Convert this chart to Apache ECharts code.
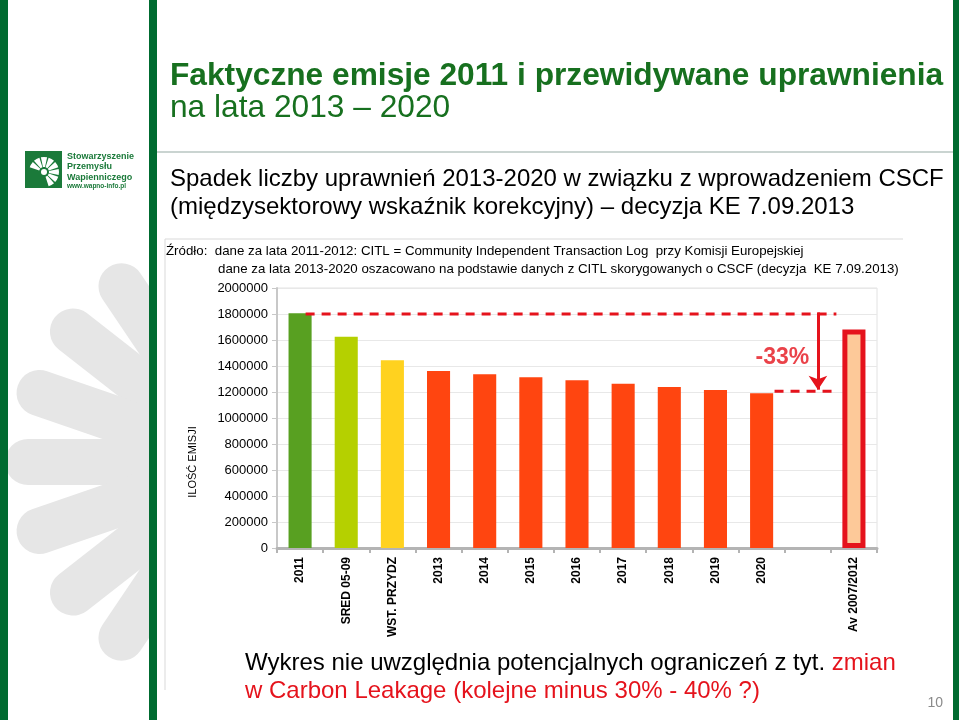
<!DOCTYPE html>
<html>
<head>
<meta charset="utf-8">
<script src="https://cdn.jsdelivr.net/npm/echarts@6/dist/echarts.min.js"></script>
<style>
html,body{margin:0;padding:0;background:#fff;}
#chart{width:959px;height:720px;}
</style>
</head>
<body>
<div id="chart"></div>
<script>
// ---- data ----
const categories = ['2011', 'SRED 05-09', 'WST. PRZYDZ', '2013', '2014', '2015', '2016', '2017', '2018', '2019', '2020', '', 'Av 2007/2012'];
const emissions = [1806000, 1625000, 1444000, 1362000, 1336000, 1313000, 1290000, 1264000, 1238000, 1215000, 1190000, null, 1680000];
const yTicks = { min: 0, max: 2000000, interval: 200000 };
const refLevel = 1800000;          // 2011 level (dashed line)
const reductionPct = -33;          // reduction label
const reducedLevel = refLevel * (1 + reductionPct / 100);

// ---- styles ----
const barColors = ['#58a021', '#b5d000', '#ffd21f', '#ff4510', '#ff4510', '#ff4510', '#ff4510', '#ff4510', '#ff4510', '#ff4510', '#ff4510', '#ff4510', '#fdc999'];
const RED = '#e5131c';
const GREEN = '#17701f';
const FONT = '"Liberation Sans", Arial, sans-serif';

const chart = echarts.init(document.getElementById('chart'), null, { renderer: 'canvas' });

const barData = emissions.map((v, i) => {
  const item = { value: v, itemStyle: { color: barColors[i] } };
  if (i === categories.length - 1) {
    item.itemStyle.borderColor = RED;
    item.itemStyle.borderWidth = 5;
  }
  return item;
});

// decorative petals (background)
const petalAngles = [-124, -142, -161, 180, 161, 142, 124];
const petals = petalAngles.map(a => ({
  type: 'rect', x: 240, y: 462, rotation: -a * Math.PI / 180, z: -3,
  shape: { x: 60, y: -23, width: 175, height: 46, r: 23 },
  style: { fill: '#e6e6e6' }
}));

const option = {
  animation: false,
  backgroundColor: '#ffffff',
  grid: { left: 277, right: 82, top: 288, bottom: 172, show: true, borderColor: '#e2e2e2', borderWidth: 1, containLabel: false },
  xAxis: [
    {
      type: 'category', data: categories, gridIndex: 0,
      axisLine: { lineStyle: { color: '#b4b4b4', width: 3 } },
      axisTick: { show: true, length: 5, lineStyle: { color: '#b4b4b4', width: 2 } },
      axisLabel: { rotate: 90, fontSize: 12, fontWeight: 'bold', color: '#000', fontFamily: FONT, margin: 9, interval: 0 },
      splitLine: { show: false }
    },
    { type: 'value', min: -0.5, max: 12.5, show: false, gridIndex: 0 }
  ],
  yAxis: {
    type: 'value', min: yTicks.min, max: yTicks.max, interval: yTicks.interval,
    axisLine: { show: true, onZero: false, lineStyle: { color: '#c8c8c8', width: 2 } },
    axisTick: { show: true, length: 5, lineStyle: { color: '#c8c8c8' } },
    axisLabel: { fontSize: 13, color: '#000', fontFamily: FONT, margin: 9, formatter: v => String(v) },
    splitLine: { lineStyle: { color: '#e8e8e8' } }
  },
  series: [
    {
      type: 'bar', data: barData, barWidth: '50%', xAxisIndex: 0,
      silent: true
    },
    {
      type: 'line', xAxisIndex: 1, symbol: 'none', silent: true,
      data: [[0.12, refLevel], [11.62, refLevel]],
      lineStyle: { color: RED, width: 3, type: [9, 7] }, z: 5
    },
    {
      type: 'line', xAxisIndex: 1, symbol: 'none', silent: true,
      data: [[10.28, reducedLevel], [11.55, reducedLevel]],
      lineStyle: { color: RED, width: 3, type: [9, 7] }, z: 5,
      markLine: {
        silent: true, symbol: ['none', 'arrow'], symbolSize: 14,
        label: { show: false },
        lineStyle: { color: RED, width: 3, type: 'solid' },
        data: [[{ coord: [11.22, refLevel + 12000] }, { coord: [11.22, reducedLevel + 12000] }]]
      }
    },
    {
      type: 'scatter', xAxisIndex: 1, symbolSize: 0, silent: true,
      data: [[10.45, 1462000]],
      label: { show: true, position: 'inside', formatter: reductionPct + '%', color: RED, fontSize: 23, fontWeight: 'bold', fontFamily: FONT }
    }
  ],
  graphic: [
    ...petals,
    // white cover so petals appear only in the left panel
    { type: 'rect', z: -2, shape: { x: 157, y: 0, width: 802, height: 720 }, style: { fill: '#ffffff' } },
    // green strips
    { type: 'rect', z: 10, shape: { x: 0, y: 0, width: 8, height: 720 }, style: { fill: '#006b30' } },
    { type: 'rect', z: 10, shape: { x: 149, y: 0, width: 8, height: 720 }, style: { fill: '#006b30' } },
    { type: 'rect', z: 10, shape: { x: 953, y: 0, width: 6, height: 720 }, style: { fill: '#006b30' } },
    // separator under title
    { type: 'line', z: 10, shape: { x1: 157, y1: 152, x2: 953, y2: 152 }, style: { stroke: '#b9c6c2', lineWidth: 1.5 } },
    // chart frame
    { type: 'polyline', z: 10, shape: { points: [[165, 690], [165, 239], [903, 239]] }, style: { stroke: '#d9d9d9', lineWidth: 1, fill: null } },
    // logo
    { type: 'rect', z: 10, shape: { x: 25, y: 151, width: 37, height: 37 }, style: { fill: '#1b7a3a' } },
    ...[-150, -120, -90, -60, -30, 0, 30, 60].map(a => ({
      type: 'sector', z: 11,
      shape: { cx: 44, cy: 172, r0: 5, r: 15, startAngle: (a - 12) * Math.PI / 180, endAngle: (a + 12) * Math.PI / 180 },
      style: { fill: '#ffffff' }
    })),
    { type: 'circle', z: 11, shape: { cx: 44, cy: 172, r: 3 }, style: { fill: '#ffffff' } },
    { type: 'text', z: 11, x: 67, y: 151, style: { text: 'Stowarzyszenie\nPrzemysłu\nWapienniczego', fill: '#1b7a3a', font: 'bold 9px ' + FONT, lineHeight: 10.5 } },
    { type: 'text', z: 11, x: 67, y: 183, style: { text: 'www.wapno-info.pl', fill: '#1b7a3a', font: 'bold 6.5px ' + FONT } },
    // titles
    { type: 'text', z: 11, x: 170, y: 76, style: { text: 'Faktyczne emisje 2011 i przewidywane uprawnienia', fill: GREEN, font: 'bold 31.7px ' + FONT, textVerticalAlign: 'middle' } },
    { type: 'text', z: 11, x: 170, y: 108, style: { text: 'na lata 2013 – 2020', fill: GREEN, font: '31.7px ' + FONT, textVerticalAlign: 'middle' } },
    { type: 'text', z: 11, x: 170, y: 179, style: { text: 'Spadek liczby uprawnień 2013-2020 w związku z wprowadzeniem CSCF', fill: '#000', font: '24px ' + FONT, textVerticalAlign: 'middle' } },
    { type: 'text', z: 11, x: 170, y: 207, style: { text: '(międzysektorowy wskaźnik korekcyjny) – decyzja KE 7.09.2013', fill: '#000', font: '24px ' + FONT, textVerticalAlign: 'middle' } },
    { type: 'text', z: 11, x: 166, y: 251, style: { text: 'Źródło:  dane za lata 2011-2012: CITL = Community Independent Transaction Log  przy Komisji Europejskiej', fill: '#000', font: '13.3px ' + FONT, textVerticalAlign: 'middle' } },
    { type: 'text', z: 11, x: 218, y: 269, style: { text: 'dane za lata 2013-2020 oszacowano na podstawie danych z CITL skorygowanych o CSCF (decyzja  KE 7.09.2013)', fill: '#000', font: '13.3px ' + FONT, textVerticalAlign: 'middle' } },
    { type: 'text', z: 11, x: 193, y: 462, rotation: Math.PI / 2, style: { text: 'ILOŚĆ EMISJI', fill: '#000', font: '11px ' + FONT, textAlign: 'center', textVerticalAlign: 'middle' } },
    // bottom note
    { type: 'text', z: 11, x: 245, y: 663, style: { text: '{a|Wykres nie uwzględnia potencjalnych ograniczeń z tyt. }{b|zmian}', font: '24px ' + FONT, textVerticalAlign: 'middle', rich: { a: { fill: '#000', font: '24px ' + FONT }, b: { fill: RED, font: '24px ' + FONT } } } },
    { type: 'text', z: 11, x: 245, y: 691, style: { text: 'w Carbon Leakage (kolejne minus 30% - 40% ?)', fill: RED, font: '24px ' + FONT, textVerticalAlign: 'middle' } },
    { type: 'text', z: 11, x: 943, y: 703, style: { text: '10', fill: '#8a8a8a', font: '14px ' + FONT, textAlign: 'right', textVerticalAlign: 'middle' } }
  ]
};
chart.setOption(option);
</script>
</body>
</html>
